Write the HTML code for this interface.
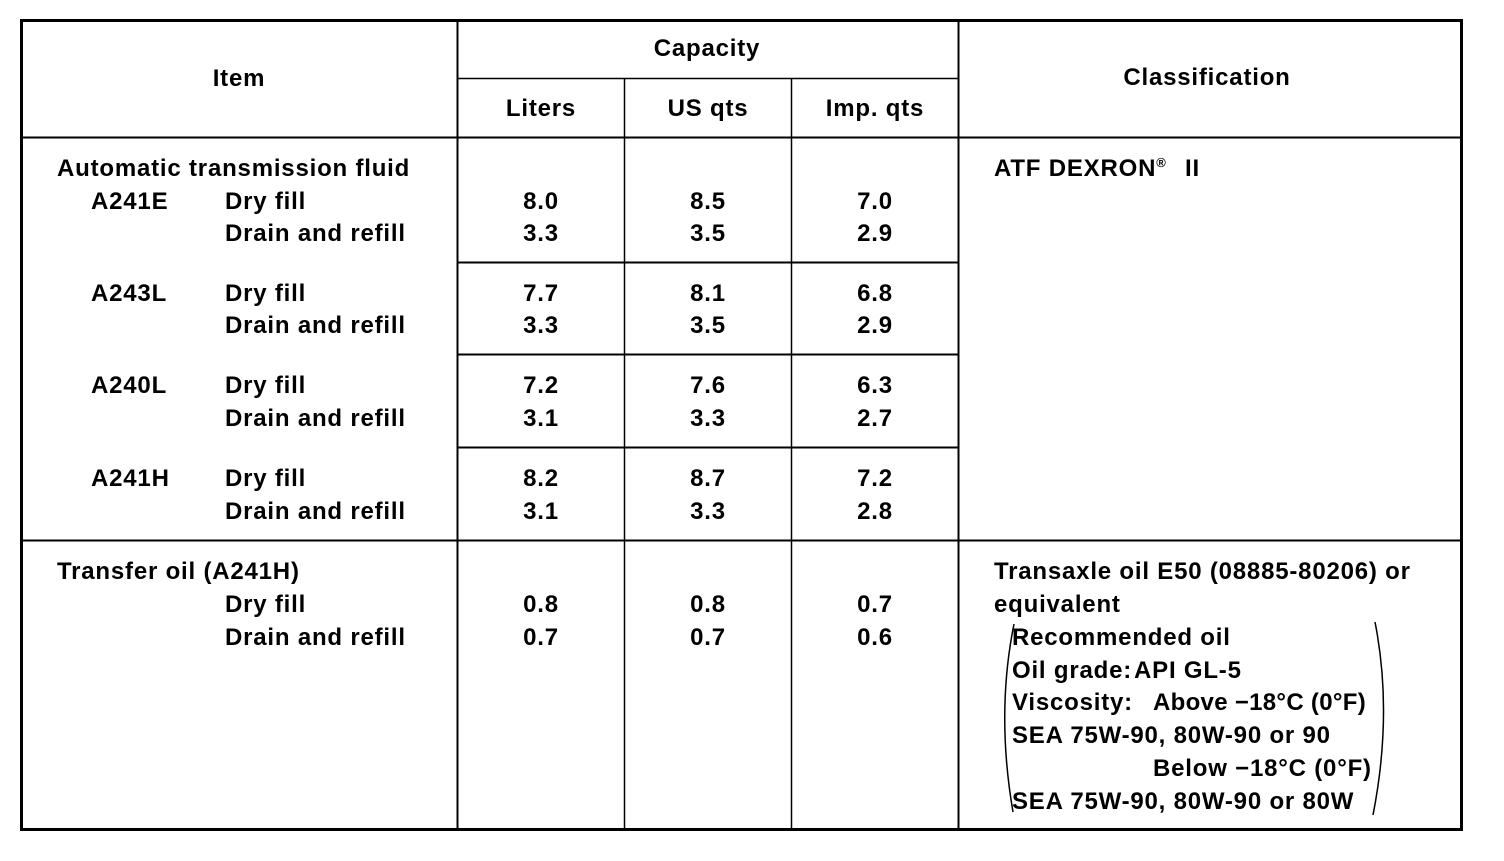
<!DOCTYPE html>
<html><head><style>
html,body{margin:0;padding:0;background:#fff;}
svg text{font-family:"Liberation Sans",Arial,sans-serif;font-size:24px;font-weight:bold;fill:#000;letter-spacing:0.8px;}
</style></head><body>
<svg width="1504" height="856" viewBox="0 0 1504 856" xmlns="http://www.w3.org/2000/svg">
<g stroke="#000" fill="none">
<rect x="21.5" y="20.5" width="1440" height="809" stroke-width="3"/>
<line x1="457.5" y1="20" x2="457.5" y2="830" stroke-width="2"/>
<line x1="958.5" y1="20" x2="958.5" y2="830" stroke-width="2"/>
<line x1="624.5" y1="78" x2="624.5" y2="830" stroke-width="1.5"/>
<line x1="791.5" y1="78" x2="791.5" y2="830" stroke-width="1.5"/>
<line x1="457" y1="78.5" x2="958" y2="78.5" stroke-width="1.5"/>
<line x1="21" y1="137.5" x2="1462" y2="137.5" stroke-width="2"/>
<line x1="457" y1="262.5" x2="958" y2="262.5" stroke-width="2"/>
<line x1="457" y1="354.5" x2="958" y2="354.5" stroke-width="2"/>
<line x1="457" y1="447.5" x2="958" y2="447.5" stroke-width="2"/>
<line x1="21" y1="540.5" x2="1462" y2="540.5" stroke-width="2"/>
<path d="M1014 624 Q996 713 1013 812" stroke-width="1.5"/>
<path d="M1375 622 Q1393 713 1373 815" stroke-width="1.5"/>
</g>
<g text-anchor="middle">
<text x="239" y="86">Item</text>
<text x="707" y="56">Capacity</text>
<text x="1207" y="85">Classification</text>
<text x="541" y="116">Liters</text>
<text x="708" y="116">US qts</text>
<text x="875" y="116">Imp. qts</text>
</g>
<g>
<text x="57" y="176">Automatic transmission fluid</text>
<text x="91" y="209">A241E</text><text x="225" y="209">Dry fill</text>
<text x="225" y="241">Drain and refill</text>
<text x="91" y="301">A243L</text><text x="225" y="301">Dry fill</text>
<text x="225" y="333">Drain and refill</text>
<text x="91" y="393">A240L</text><text x="225" y="393">Dry fill</text>
<text x="225" y="426">Drain and refill</text>
<text x="91" y="486">A241H</text><text x="225" y="486">Dry fill</text>
<text x="225" y="519">Drain and refill</text>
<text x="57" y="579">Transfer oil (A241H)</text>
<text x="225" y="612">Dry fill</text>
<text x="225" y="645">Drain and refill</text>
<text x="994" y="176">ATF DEXRON<tspan font-size="13" dy="-9">®</tspan><tspan dy="9" x="1185">II</tspan></text>
<text x="994" y="579">Transaxle oil E50 (08885-80206) or</text>
<text x="994" y="612">equivalent</text>
<text x="1012" y="645">Recommended oil</text>
<text x="1012" y="678">Oil grade:<tspan x="1134">API GL-5</tspan></text>
<text x="1012" y="710">Viscosity:<tspan x="1153" letter-spacing="0.3">Above −18°C (0°F)</tspan></text>
<text x="1012" y="743">SEA 75W-90, 80W-90 or 90</text>
<text x="1153" y="776" letter-spacing="0.3">Below −18°C (0°F)</text>
<text x="1012" y="809">SEA 75W-90, 80W-90 or 80W</text>
</g>
<g text-anchor="middle">
<text x="541" y="209">8.0</text><text x="708" y="209">8.5</text><text x="875" y="209">7.0</text>
<text x="541" y="241">3.3</text><text x="708" y="241">3.5</text><text x="875" y="241">2.9</text>
<text x="541" y="301">7.7</text><text x="708" y="301">8.1</text><text x="875" y="301">6.8</text>
<text x="541" y="333">3.3</text><text x="708" y="333">3.5</text><text x="875" y="333">2.9</text>
<text x="541" y="393">7.2</text><text x="708" y="393">7.6</text><text x="875" y="393">6.3</text>
<text x="541" y="426">3.1</text><text x="708" y="426">3.3</text><text x="875" y="426">2.7</text>
<text x="541" y="486">8.2</text><text x="708" y="486">8.7</text><text x="875" y="486">7.2</text>
<text x="541" y="519">3.1</text><text x="708" y="519">3.3</text><text x="875" y="519">2.8</text>
<text x="541" y="612">0.8</text><text x="708" y="612">0.8</text><text x="875" y="612">0.7</text>
<text x="541" y="645">0.7</text><text x="708" y="645">0.7</text><text x="875" y="645">0.6</text>
</g>
</svg>
</body></html>
